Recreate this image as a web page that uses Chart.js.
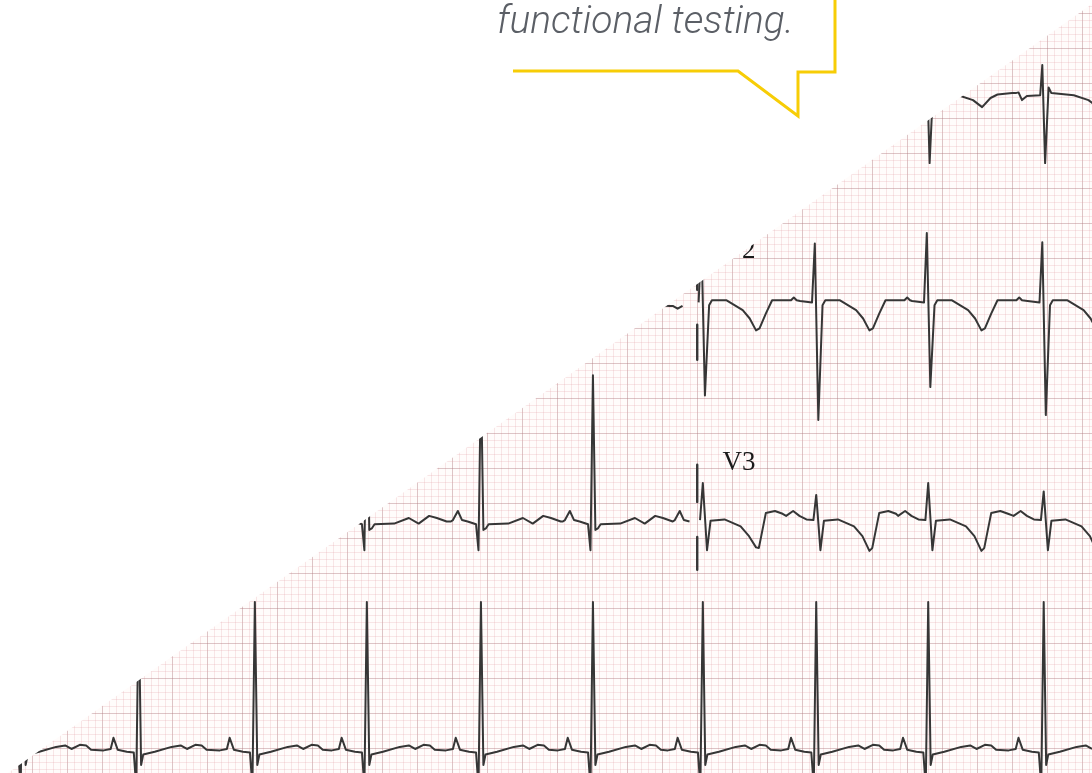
<!DOCTYPE html>
<html>
<head>
<meta charset="utf-8">
<script src="https://cdn.jsdelivr.net/npm/chart.js@4"></script>
<style>
  html, body { margin: 0; padding: 0; background: #ffffff; }
  #wrap { position: relative; width: 1092px; height: 773px; overflow: hidden; }
</style>
</head>
<body>
<div id="wrap"><canvas id="ecg"></canvas></div>
<script>
// Units: both axes in millimetres of ECG paper (1 small box = 1 mm = 0.04 s / 0.1 mV)

// QRS positions (mm along the strip), same for every row
const beatsMm = [-1.4, 15.1, 31.7, 47.7, 64.0, 80.0, 95.7, 111.9, 127.9, 144.4];
const splitMm = 94.9; // where the 3rd column of leads starts

// Baselines of each row (mm)
const rowBase = [78.4, 49.1, 17.7, -15.4];
const leftBase = [48.3, 17.0];

// Beat shapes, [offset from QRS, amplitude] in mm
const waveV1 = [[-4.0, 0.3], [-3.6, 0.4], [-3.1, -0.7], [-2.4, -0.1], [-0.5, 0], [-0.2, 4.3], [0.2, -9.7],
  [0.7, 1.1], [1.1, 0.3], [4.3, 0], [6.4, -0.7], [7.7, -1.7], [8.9, -0.4], [9.9, 0.1], [12.0, 0.3]];
const waveV2 = [[-2.3, -0.1], [-0.6, -0.3], [-0.2, 8.5], [0.3, -15], [0.9, -0.7], [1.3, 0], [3.4, 0],
  [5.7, -1.4], [6.7, -2.6], [7.6, -4.3], [8.1, -4.0], [9.0, -1.9], [9.9, 0], [12.6, 0], [13.0, 0.4], [13.4, 0]];
const waveV3 = [[-4.3, 0.6], [-3.3, 1.3], [-2.4, 0.6], [-1.4, 0.1], [-0.4, 0], [0, 4.3], [0.6, -4.3],
  [1.1, -0.1], [3.1, 0.1], [5.4, -0.9], [6.6, -2.3], [7.6, -4.6], [8.0, -4.0], [9.0, 1.0], [10.3, 1.3], [11.4, 0.9]];
const waveLeft2 = [[-4.3, 0], [-3.6, -0.4], [-2.9, 0], [-0.7, 0], [0, 3.0], [0.4, -2.0], [0.8, 0],
  [3.0, 0], [7.0, 0.2], [11.0, 0]];
const waveLeft3 = [[-4.3, 0.5], [-4.0, 0.7], [-3.3, 2.0], [-2.7, 0.7], [-1.9, 0.5], [-0.7, 0.1], [-0.35, -3.6],
  [0, 21.4], [0.35, -0.7], [0.7, -0.5], [1.1, 0.1], [3.9, 0.2], [6.0, 1.0], [7.4, 0.2], [8.9, 1.3], [10.0, 1.0], [11.4, 0.5]];
const waveRhythm = [[-5.0, 0.2], [-4.0, 0.4], [-3.6, 2.0], [-3.0, 0.3], [-1.7, 0], [-0.7, -0.1], [-0.35, -5.0],
  [0, 21.4], [0.35, -1.9], [0.65, -0.4], [2.3, 0], [4.7, 0.7], [6.0, 0.9], [6.9, 0.4], [8.1, 1.0], [9.0, 0.9], [9.7, 0.3]];

// R / S sizes read beat by beat in the right column (mm)
const v2R = [8.6, 8.1, 9.6, 8.3];
const v2S = [-13.6, -17.1, -12.4, -16.4];
const v3R = [5.3, 3.6, 5.3, 4.1];
const v3S = [-3.9, -4.4, -4.4, -4.4];

// Lead change marks at the column boundary (mm)
const markTop = [52.0, 45.6, 25.6, 15.3];
const markBottom = [50.6, 40.6, 20.3, 10.6];

const leadNames = ['V2', 'V3'];
const leadLabelY = [55.1, 24.9];

// Build a trace by placing the beat shape at every QRS
function buildTrace(wave, beats, base, from, to, rAmp, sAmp) {
    const amps = wave.map(p => p[1]);
    const hi = amps.indexOf(Math.max(...amps));
    const lo = amps.indexOf(Math.min(...amps));
    const pts = [];
    beats.forEach((t, i) => {
        wave.forEach(([dx, dy], k) => {
            let v = dy;
            if (rAmp && k === hi) v = rAmp[i];
            if (sAmp && k === lo) v = sAmp[i];
            const x = t + dx;
            if (x >= from && x < to) pts.push({ x: x, y: base + v });
        });
    });
    return pts;
}

const rightBeats = beatsMm.filter(t => t > splitMm);

const row1 = buildTrace(waveV1, rightBeats, rowBase[0], splitMm, 999);
const row2 = buildTrace(waveLeft2, beatsMm, leftBase[0], -999, splitMm)
    .concat([{ x: splitMm, y: null }])
    .concat(buildTrace(waveV2, rightBeats, rowBase[1], splitMm, 999, v2R, v2S));
const row3 = buildTrace(waveLeft3, beatsMm, leftBase[1], -999, splitMm)
    .concat([{ x: splitMm, y: null }])
    .concat(buildTrace(waveV3, rightBeats, rowBase[2], splitMm, 999, v3R, v3S));
const row4 = buildTrace(waveRhythm, beatsMm, rowBase[3], -999, 999);

const marks = [];
markTop.forEach((top, i) => {
    marks.push({ x: splitMm, y: top }, { x: splitMm, y: markBottom[i] }, { x: splitMm, y: null });
});

const traceStyle = {
    borderColor: '#363636',
    borderWidth: 2,
    pointRadius: 0,
    tension: 0,
    spanGaps: false,
    borderJoinStyle: 'round'
};

// Paper background, labels, the white corner and the speech bubble
const paperPlugin = {
    id: 'paper',
    beforeDraw(chart) {
        const { ctx, chartArea: a } = chart;
        ctx.save();
        ctx.fillStyle = '#fffcfb';
        ctx.fillRect(a.left, a.top, a.right - a.left, a.bottom - a.top);
        ctx.restore();
    },
    afterDraw(chart) {
        const { ctx, scales } = chart;
        const W = chart.width, H = chart.height;
        ctx.save();

        // lead labels
        ctx.fillStyle = '#1a1a1a';
        ctx.font = '27px "Liberation Serif", serif';
        ctx.textBaseline = 'alphabetic';
        leadNames.forEach((name, i) => {
            ctx.fillText(name, scales.x.getPixelForValue(splitMm + 3.6), scales.y.getPixelForValue(leadLabelY[i]));
        });

        // white top-left corner
        ctx.fillStyle = '#ffffff';
        ctx.beginPath();
        ctx.moveTo(0, 0);
        ctx.lineTo(W, 0);
        ctx.lineTo(W, 4);
        ctx.lineTo(8, H);
        ctx.lineTo(0, H);
        ctx.closePath();
        ctx.fill();

        // speech bubble outline
        ctx.strokeStyle = '#f7cd06';
        ctx.lineWidth = 3;
        ctx.lineJoin = 'miter';
        ctx.beginPath();
        ctx.moveTo(513, 71);
        ctx.lineTo(738, 71);
        ctx.lineTo(798, 116);
        ctx.lineTo(798, 72);
        ctx.lineTo(835, 72);
        ctx.lineTo(835, -5);
        ctx.stroke();

        // bubble text
        ctx.fillStyle = '#5b5f66';
        ctx.font = 'italic 300 39px Roboto, "Open Sans", sans-serif';
        ctx.fillText('functional testing.', 497, 33);
        ctx.restore();
    }
};

function gridColor(ctx) {
    return ctx.tick && ctx.tick.value % 5 === 0 ? 'rgba(175,120,125,0.42)' : 'rgba(225,160,165,0.24)';
}

new Chart(document.getElementById('ecg'), {
    type: 'line',
    data: {
        datasets: [
            { ...traceStyle, data: row1 },
            { ...traceStyle, data: row2 },
            { ...traceStyle, data: row3 },
            { ...traceStyle, data: row4 },
            { ...traceStyle, borderWidth: 2.4, data: marks }
        ]
    },
    options: {
        responsive: true,
        maintainAspectRatio: false,
        animation: false,
        layout: { padding: 0 },
        plugins: {
            legend: { display: false },
            tooltip: { enabled: false }
        },
        scales: {
            x: {
                type: 'linear',
                min: -4.71,
                max: 151.3,
                border: { display: false },
                ticks: { display: false, stepSize: 1, includeBounds: false },
                grid: { color: gridColor, drawTicks: false, lineWidth: 1 }
            },
            y: {
                type: 'linear',
                min: -18.43,
                max: 92,
                border: { display: false },
                ticks: { display: false, stepSize: 1, includeBounds: false },
                grid: { color: gridColor, drawTicks: false, lineWidth: 1 }
            }
        }
    },
    plugins: [paperPlugin]
});
</script>
</body>
</html>
